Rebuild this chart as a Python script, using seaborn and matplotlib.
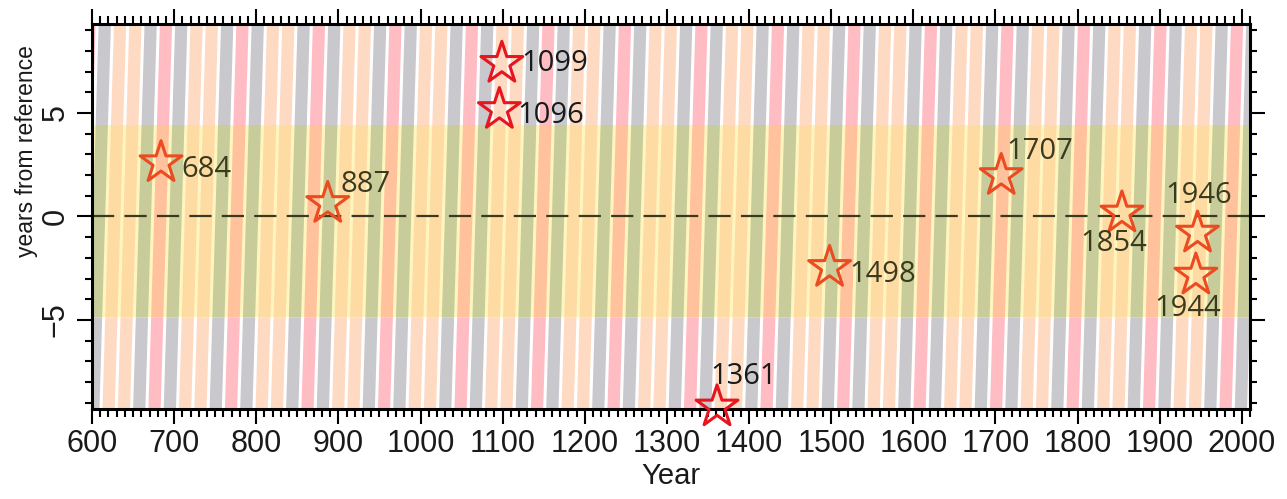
import numpy as np
import pandas as pd
import matplotlib
matplotlib.use("Agg")
import matplotlib.pyplot as plt
from matplotlib.collections import PolyCollection
from matplotlib.ticker import MultipleLocator
import seaborn as sns

# ---------------- data ----------------
event_years = [684, 887, 1096, 1099, 1361, 1498, 1707, 1854, 1944, 1946]
offsets = [2.6, 0.63, 5.17, 7.4, -9.2, -2.46, 1.98, 0.17, -2.83, -0.8]
event_labels = ["684", "887", "1096", "1099", "1361", "1498", "1707", "1854", "1944", "1946"]

band_low, band_high = -4.88, 4.42          # shaded band (years from reference)
stripe_period = 18.63                       # background stripe cycle length (years)
stripe_anchor = 657.0                       # a grey stripe starts here at offset 0
stripe_cycle = ["gray", "pink", "gray", "peach", "peach"]

x_ticks = list(range(600, 2001, 100))
y_ticks = [-5, 0, 5]

# ---------------- style ----------------
sns.set_theme(style="ticks")
plt.rcParams["font.family"] = ["Liberation Sans", "DejaVu Sans"]

outer_col = {"gray": "#c8c8cd", "pink": "#ffbcc3", "peach": "#ffdac2"}
inner_col = {"gray": "#c8cc9a", "pink": "#ffc29c", "peach": "#ffdba4"}
band_bg = "#fff6bf"

label_off = {  # text offsets in points, alignment
    "684": (15, -5, "left"), "887": (9, 14, "left"), "1096": (13, -4, "left"),
    "1099": (14, 0, "left"), "1361": (-5, 22, "left"), "1498": (14, -5, "left"),
    "1707": (4, 17, "left"), "1854": (-6, -22, "center"), "1944": (-6, -24, "center"),
    "1946": (1, 27, "center"),
}

fig = plt.figure(figsize=(12.87, 4.99), dpi=100)
ax = fig.add_axes([0.0715, 0.1804, 0.8998, 0.7715])
xlim = (600, 2010)
ylim = (-9.3, 9.3)

# ---------------- background stripes ----------------
fill_frac = 0.8
slope = 0.75
regions = [(ylim[0], band_low, outer_col), (band_low, band_high, inner_col), (band_high, ylim[1], outer_col)]
ax.axhspan(band_low, band_high, color=band_bg, lw=0, zorder=0)
k_start = int(np.floor((xlim[0] - 15 - stripe_anchor) / stripe_period)) - 1
k_end = int(np.ceil((xlim[1] + 15 - stripe_anchor) / stripe_period)) + 1
for y0, y1, cols in regions:
    verts, fcs = [], []
    for k in range(k_start, k_end):
        s = stripe_anchor + k * stripe_period
        w = fill_frac * stripe_period
        verts.append([(s + slope * y0, y0), (s + w + slope * y0, y0),
                      (s + w + slope * y1, y1), (s + slope * y1, y1)])
        fcs.append(cols[stripe_cycle[k % len(stripe_cycle)]])
    ax.add_collection(PolyCollection(verts, facecolors=fcs, edgecolors="none", zorder=1))

# reference line
ax.axhline(0, color="#3a3a20", lw=1.6, dashes=(10, 4.6), zorder=3)

# ---------------- stars ----------------
df = pd.DataFrame({"year": event_years, "offset": offsets, "label": event_labels})
inside = (df["offset"] > band_low) & (df["offset"] < band_high)
df["edge"] = np.where(inside, "#ec4a20", "#e8141e")
df["tcol"] = np.where(inside, "#3a3a1e", "#1a1a1a")

n_before = len(ax.collections)
sns.scatterplot(data=df, x="year", y="offset", marker="*", s=1000,
                linewidth=2.2, clip_on=False, zorder=6, legend=False, ax=ax)
stars = ax.collections[n_before]
stars.set_facecolor("none")
stars.set_edgecolor(df["edge"].tolist())
stars.set_linewidth(2.2)
stars.set_clip_on(False)
stars.set_zorder(6)

for _, r in df.iterrows():
    dx, dy, ha = label_off[r["label"]]
    ax.annotate(r["label"], (r["year"], r["offset"]), xytext=(dx, dy),
                textcoords="offset points", ha=ha, va="center",
                fontsize=21, color=r["tcol"], family=["Open Sans", "DejaVu Sans"],
                zorder=7, annotation_clip=False)

# ---------------- axes ----------------
ax.set_xlim(*xlim)
ax.set_ylim(*ylim)
ax.set_xticks(x_ticks)
ax.set_xticklabels([str(t) for t in x_ticks])
ax.set_yticks(y_ticks)
ax.set_yticklabels(["\u22125", "0", "5"], rotation=90, va="center")
ax.xaxis.set_minor_locator(MultipleLocator(10))
ax.yaxis.set_minor_locator(MultipleLocator(1))
ax.tick_params(which="both", direction="out", top=True, right=True,
               width=1.5, color="black", labelsize=22, labelcolor="#1a1a1a")
ax.tick_params(which="major", length=10.5, pad=4)
ax.tick_params(axis="x", which="minor", length=5.5)
ax.tick_params(axis="y", which="minor", length=5)
ax.tick_params(axis="y", which="major", pad=5)
for sp in ax.spines.values():
    sp.set_visible(True)
    sp.set_linewidth(2.2)
    sp.set_color("black")
    sp.set_zorder(5)

ax.set_xlabel("Year", fontsize=21, color="#1a1a1a", labelpad=2)
ax.set_ylabel("years from reference", fontsize=16.5, color="#1a1a1a")
ax.yaxis.set_label_coords(-0.047, 0.67)
ax.grid(False)

fig.savefig("out.png", dpi=100, facecolor="white")
